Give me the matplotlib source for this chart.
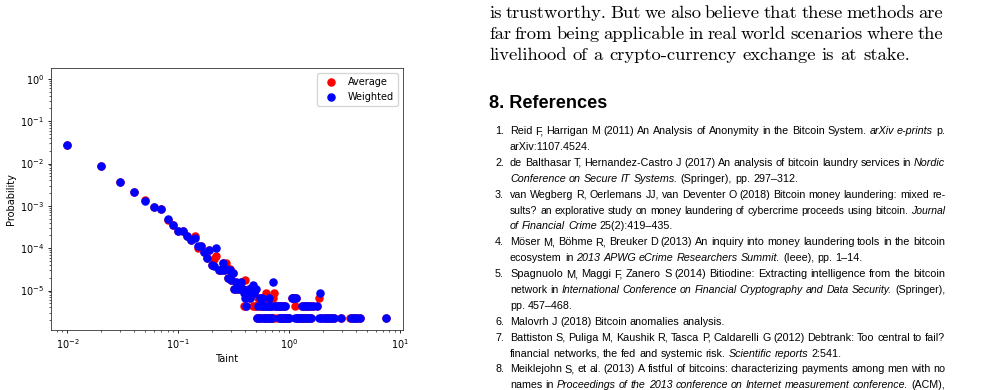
import matplotlib
matplotlib.use('Agg')
import matplotlib.pyplot as plt

# chart data
avg_taint = [0.01, 0.02, 0.03, 0.04, 0.05, 0.06, 0.07, 0.08, 0.09, 0.10,
             0.11, 0.12, 0.13, 0.14, 0.15, 0.16, 0.17, 0.18, 0.19, 0.20,
             0.21, 0.22, 0.23, 0.24, 0.25, 0.26, 0.27, 0.28, 0.29, 0.30,
             0.31, 0.32, 0.33, 0.34, 0.35, 0.36, 0.37, 0.38, 0.39, 0.40,
             0.41, 0.42, 0.43, 0.44, 0.45, 0.46, 0.47, 0.48, 0.49, 0.50,
             0.51, 0.52, 0.53, 0.54, 0.55, 0.56, 0.57, 0.58, 0.59, 0.60,
             0.61, 0.62, 0.63, 0.64, 0.65, 0.66, 0.67, 0.68, 0.69, 0.70,
             0.71, 0.73, 0.74, 0.76, 0.79, 0.81, 0.82, 0.84, 0.85, 0.86,
             0.88, 0.89, 0.91, 0.92, 0.94, 0.96, 0.98, 1.00, 1.05, 1.08,
             1.12, 1.15, 1.17, 1.20, 1.24, 1.28, 1.30, 1.33, 1.36, 1.38,
             1.42, 1.45, 1.48, 1.52, 1.55, 1.58, 1.62, 1.78, 1.86, 1.95,
             2.05, 2.15, 2.25, 2.35, 2.45, 2.55, 2.95, 3.50, 3.75, 3.90,
             4.10, 4.30, 7.50]
avg_prob = [2.8e-2, 8.6e-3, 3.7e-3, 2.15e-3, 1.4e-3, 9.3e-4, 8.2e-4, 4.7e-4, 3.6e-4, 2.6e-4,
            2.5e-4, 1.9e-4, 1.6e-4, 1.9e-4, 1.0e-4, 1.1e-4, 8.2e-5, 5.8e-5, 9.0e-5, 4.1e-5,
            5.6e-5, 6.4e-5, 3.1e-5, 3.1e-5, 4.5e-5, 3.1e-5, 4.5e-5, 1.95e-5, 3.3e-5, 1.8e-5,
            2.6e-5, 1.1e-5, 1.55e-5, 1.1e-5, 1.3e-5, 1.1e-5, 1.55e-5, 1.1e-5, 4.4e-6, 1.75e-5,
            4.4e-6, 8.7e-6, 1.1e-5, 6.6e-6, 8.7e-6, 1.0e-5, 4.4e-6, 8.7e-6, 4.4e-6, 4.4e-6,
            2.2e-6, 6.6e-6, 2.2e-6, 6.6e-6, 4.4e-6, 2.2e-6, 6.6e-6, 4.4e-6, 2.2e-6, 6.6e-6,
            2.2e-6, 8.7e-6, 2.2e-6, 4.4e-6, 6.6e-6, 2.2e-6, 4.4e-6, 2.2e-6, 4.4e-6, 2.2e-6,
            6.6e-6, 8.7e-6, 2.2e-6, 4.4e-6, 4.4e-6, 2.2e-6, 4.4e-6, 2.2e-6, 4.4e-6, 2.2e-6,
            4.4e-6, 2.2e-6, 4.4e-6, 2.2e-6, 2.2e-6, 2.2e-6, 2.2e-6, 2.2e-6, 6.6e-6, 6.6e-6,
            4.4e-6, 6.6e-6, 2.2e-6, 2.2e-6, 2.2e-6, 2.2e-6, 4.4e-6, 2.2e-6, 4.4e-6, 2.2e-6,
            4.4e-6, 2.2e-6, 4.4e-6, 2.2e-6, 4.4e-6, 2.2e-6, 4.4e-6, 4.4e-6, 6.6e-6, 2.2e-6,
            2.2e-6, 2.2e-6, 2.2e-6, 2.2e-6, 2.2e-6, 2.2e-6, 2.2e-6, 2.2e-6, 2.2e-6, 2.2e-6,
            2.2e-6, 2.2e-6, 2.2e-6]

w_taint = [0.01, 0.02, 0.03, 0.04, 0.05, 0.06, 0.07, 0.08, 0.09, 0.10,
           0.11, 0.12, 0.13, 0.14, 0.15, 0.16, 0.17, 0.18, 0.19, 0.20,
           0.21, 0.22, 0.23, 0.24, 0.25, 0.26, 0.27, 0.28, 0.29, 0.30,
           0.31, 0.32, 0.33, 0.34, 0.35, 0.36, 0.37, 0.38, 0.39, 0.40,
           0.41, 0.42, 0.43, 0.44, 0.45, 0.46, 0.47, 0.48, 0.49, 0.50,
           0.51, 0.52, 0.53, 0.54, 0.55, 0.56, 0.57, 0.58, 0.59, 0.60,
           0.61, 0.62, 0.63, 0.64, 0.65, 0.66, 0.67, 0.68, 0.69, 0.70,
           0.72, 0.73, 0.76, 0.79, 0.81, 0.82, 0.84, 0.85, 0.86, 0.88,
           0.89, 0.91, 0.92, 0.94, 0.96, 0.98, 1.00, 1.05, 1.08, 1.10,
           1.13, 1.15, 1.17, 1.20, 1.24, 1.28, 1.30, 1.33, 1.36, 1.38,
           1.42, 1.45, 1.48, 1.52, 1.55, 1.58, 1.62, 1.78, 1.85, 1.88,
           1.95, 2.05, 2.15, 2.25, 2.35, 2.45, 2.55, 2.95, 3.60, 3.75,
           3.90, 4.10, 4.30, 7.50]
w_prob = [2.8e-2, 8.6e-3, 3.7e-3, 2.15e-3, 1.3e-3, 9.3e-4, 8.2e-4, 4.9e-4, 3.6e-4, 2.6e-4,
          2.5e-4, 1.9e-4, 1.6e-4, 1.7e-4, 1.1e-4, 1.1e-4, 8.2e-5, 5.8e-5, 9.0e-5, 4.1e-5,
          3.8e-5, 1.0e-4, 3.1e-5, 3.1e-5, 4.5e-5, 3.1e-5, 3.3e-5, 1.95e-5, 3.1e-5, 1.8e-5,
          2.6e-5, 1.1e-5, 1.55e-5, 1.1e-5, 1.3e-5, 1.1e-5, 1.55e-5, 1.1e-5, 8.7e-6, 6.6e-6,
          4.4e-6, 8.7e-6, 1.1e-5, 6.6e-6, 8.7e-6, 1.1e-5, 1.35e-5, 8.7e-6, 1.1e-5, 1.1e-5,
          2.2e-6, 4.4e-6, 2.2e-6, 6.6e-6, 4.4e-6, 2.2e-6, 6.6e-6, 4.4e-6, 2.2e-6, 4.4e-6,
          2.2e-6, 4.4e-6, 2.2e-6, 4.4e-6, 6.6e-6, 2.2e-6, 4.4e-6, 2.2e-6, 4.4e-6, 2.2e-6,
          1.55e-5, 4.4e-6, 4.4e-6, 4.4e-6, 2.2e-6, 4.4e-6, 2.2e-6, 4.4e-6, 2.2e-6, 4.4e-6,
          2.2e-6, 4.4e-6, 2.2e-6, 2.2e-6, 2.2e-6, 2.2e-6, 2.2e-6, 6.6e-6, 6.6e-6, 6.6e-6,
          2.2e-6, 6.6e-6, 2.2e-6, 2.2e-6, 2.2e-6, 2.2e-6, 4.4e-6, 2.2e-6, 4.4e-6, 2.2e-6,
          4.4e-6, 2.2e-6, 4.4e-6, 2.2e-6, 4.4e-6, 2.2e-6, 4.4e-6, 4.4e-6, 2.2e-6, 8.7e-6,
          2.2e-6, 2.2e-6, 2.2e-6, 2.2e-6, 2.2e-6, 2.2e-6, 2.2e-6, 2.2e-6, 2.2e-6, 2.2e-6,
          2.2e-6, 2.2e-6, 2.2e-6, 2.2e-6]

# page text next to the chart (*...* marks italics)
para_lines = [
    ('is trustworthy. But we also believe that these methods are', True),
    ('far from being applicable in real world scenarios where the', True),
    ('livelihood of a crypto-currency exchange is at stake.', False),
]
heading = '8. References'
refs = [
    ('1.', [('Reid F, Harrigan M (2011) An Analysis of Anonymity in the Bitcoin System. *arXiv e-prints* p.', True),
            ('arXiv:1107.4524.', False)]),
    ('2.', [('de Balthasar T, Hernandez-Castro J (2017) An analysis of bitcoin laundry services in *Nordic*', True),
            ('*Conference on Secure IT Systems.* (Springer), pp. 297\u2013312.', False)]),
    ('3.', [('van Wegberg R, Oerlemans JJ, van Deventer O (2018) Bitcoin money laundering: mixed re-', True),
            ('sults? an explorative study on money laundering of cybercrime proceeds using bitcoin. *Journal*', True),
            ('*of Financial Crime* 25(2):419\u2013435.', False)]),
    ('4.', [('M\u00f6ser M, B\u00f6hme R, Breuker D (2013) An inquiry into money laundering tools in the bitcoin', True),
            ('ecosystem in *2013 APWG eCrime Researchers Summit.* (Ieee), pp. 1\u201314.', False)]),
    ('5.', [('Spagnuolo M, Maggi F, Zanero S (2014) Bitiodine: Extracting intelligence from the bitcoin', True),
            ('network in *International Conference on Financial Cryptography and Data Security.* (Springer),', True),
            ('pp. 457\u2013468.', False)]),
    ('6.', [('Malovrh J (2018) Bitcoin anomalies analysis.', False)]),
    ('7.', [('Battiston S, Puliga M, Kaushik R, Tasca P, Caldarelli G (2012) Debtrank: Too central to fail?', True),
            ('financial networks, the fed and systemic risk. *Scientific reports* 2:541.', False)]),
    ('8.', [('Meiklejohn S, et al. (2013) A fistful of bitcoins: characterizing payments among men with no', True),
            ('names in *Proceedings of the 2013 conference on Internet measurement conference.* (ACM),', True)]),
]

W, H = 991, 390
fig = plt.figure(figsize=(W / 100, H / 100), dpi=100)

ax = fig.add_axes([51 / W, 1 - 330 / H, 352 / W, 262 / H])
ax.scatter(avg_taint, avg_prob, s=26, c='red', label='Average', zorder=2)
ax.scatter(w_taint, w_prob, s=26, c='blue', label='Weighted', zorder=3)
ax.set_xscale('log')
ax.set_yscale('log')
ax.set_xlim(0.0071, 10.6)
ax.set_ylim(1.17e-6, 1.8)
ax.set_xlabel('Taint', fontsize=7, labelpad=2.5)
ax.set_ylabel('Probability', fontsize=7, labelpad=2.5)
ax.tick_params(labelsize=7, width=0.6, length=2.5, pad=2.5)
ax.tick_params(which='minor', width=0.45, length=1.6)
for sp in ax.spines.values():
    sp.set_linewidth(0.6)
    sp.set_color('#333333')
ax.legend(loc='upper right', fontsize=7)

renderer = fig.canvas.get_renderer()


def measure(s, size, family, italic=False, weight='normal'):
    t = fig.text(0, 0, s, fontsize=size, family=family,
                 style='italic' if italic else 'normal', weight=weight)
    w = t.get_window_extent(renderer).width
    t.remove()
    return w


def parse(line):
    out, ital = [], False
    for w in line.split(' '):
        if w.startswith('*'):
            ital, w = True, w[1:]
        end = w.endswith('*')
        if end:
            w = w[:-1]
        out.append((w, ital))
        if end:
            ital = False
    return out


def space_w(size, family):
    return measure('a a', size, family) - measure('aa', size, family)


def natural(line, size, family):
    words = parse(line)
    return sum(measure(w, size, family, it) for w, it in words) + (len(words) - 1) * space_w(size, family)


def draw_line(line, x0, x1, y, justify, size, family):
    # one text per word; justified lines spread the spare room over the gaps
    words = parse(line)
    widths = [measure(w, size, family, it) for w, it in words]
    gap = (x1 - x0 - sum(widths)) / (len(words) - 1) if justify else space_w(size, family)
    x = x0
    for (w, it), wd in zip(words, widths):
        fig.text(x / W, 1 - y / H, w, fontsize=size, family=family,
                 style='italic' if it else 'normal', ha='left', va='baseline')
        x += wd + gap


# body paragraph (serif)
serif = 'cmr10'
p_size = 10 * 423 / natural(para_lines[-1][0], 10, serif)
for i, (line, just) in enumerate(para_lines):
    draw_line(line, 489, 943, 18 + 21 * i, just, p_size, serif)

# heading
h_size = 10 * 118 / measure(heading, 10, 'Liberation Sans', weight='bold')
fig.text(489 / W, 1 - 108 / H, heading, fontsize=h_size, family='Liberation Sans',
         weight='bold', ha='left', va='baseline')

# reference list: each justified line gets the size that fills the column
sans = 'Liberation Sans'
x_l, x_r = 510, 945
fits = sorted(10 * (x_r - x_l) / natural(l, 10, sans) for _, ls in refs for l, j in ls if j)
r_size = fits[len(fits) // 2]
row = 0
for num, lines in refs:
    fig.text(504 / W, 1 - (134 + 15.9 * row) / H, num, fontsize=r_size, family=sans,
             ha='right', va='baseline')
    for line, just in lines:
        size = 10 * (x_r - x_l) / natural(line, 10, sans) if just else r_size
        draw_line(line, x_l, x_r, 134 + 15.9 * row, just, size, sans)
        row += 1

fig.savefig('out.png', dpi=100)
